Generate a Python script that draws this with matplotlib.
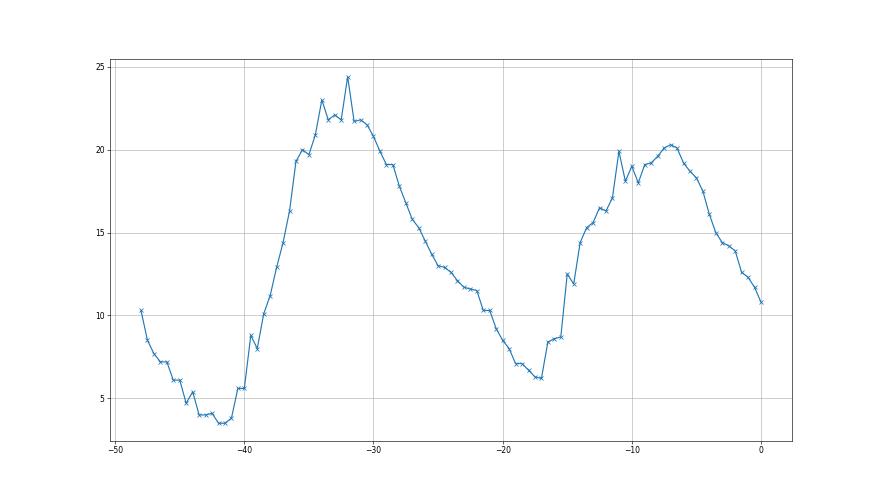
import numpy as np
import matplotlib
matplotlib.use("Agg")
import matplotlib.pyplot as plt

# x positions, one every half unit from -48 to 0
x_start = -48.0
x_step = 0.5

values = [
    10.3, 8.5, 7.7, 7.2, 7.2, 6.1, 6.1, 4.7, 5.4, 4.0,
    4.0, 4.1, 3.5, 3.5, 3.8, 5.6, 5.6, 8.8, 8.0, 10.1,
    11.2, 12.9, 14.4, 16.3, 19.3, 20.0, 19.7, 20.9, 23.0, 21.8,
    22.1, 21.8, 24.4, 21.7, 21.8, 21.5, 20.8, 19.9, 19.1, 19.1,
    17.8, 16.8, 15.8, 15.3, 14.5, 13.7, 13.0, 12.9, 12.6, 12.1,
    11.7, 11.6, 11.5, 10.3, 10.3, 9.2, 8.5, 8.0, 7.1, 7.1,
    6.7, 6.3, 6.2, 8.4, 8.6, 8.7, 12.5, 11.9, 14.4, 15.3,
    15.6, 16.5, 16.3, 17.1, 19.9, 18.1, 19.0, 18.0, 19.1, 19.2,
    19.6, 20.1, 20.3, 20.1, 19.2, 18.7, 18.3, 17.5, 16.1, 15.0,
    14.4, 14.2, 13.9, 12.6, 12.3, 11.7, 10.8,
]

x = x_start + x_step * np.arange(len(values))

fig, ax = plt.subplots(figsize=(16, 9), dpi=55)
ax.plot(x, values, marker="x", color="#1f77b4")
ax.grid(True)

fig.savefig("out.png", dpi=55)
